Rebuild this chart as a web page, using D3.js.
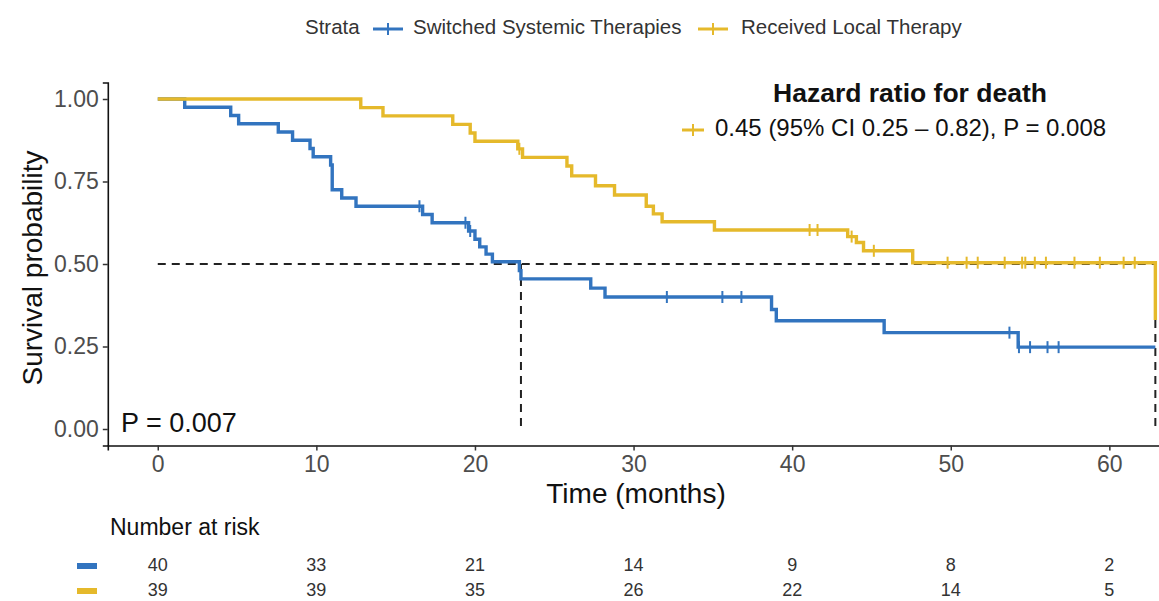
<!DOCTYPE html>
<html>
<head>
<meta charset="utf-8">
<script src="https://cdn.jsdelivr.net/npm/d3@7"></script>
<style>
  html, body { margin: 0; padding: 0; background: #fff; }
  svg { display: block; font-family: "Liberation Sans", Arial, sans-serif; }
</style>
</head>
<body>
<svg id="chart" width="1159" height="601"></svg>
<script>
// ---------------- data ----------------
const strataNames = ["Switched Systemic Therapies", "Received Local Therapy"];
const strataColors = ["#3274BF", "#E5B92B"];

const blueTimes = [0, 1.7, 4.6, 5.1, 7.6, 8.5, 9.6, 9.8, 10.9, 11.0, 11.6, 12.5, 16.7, 17.3, 19.6, 20.0, 20.3, 20.7, 21.1, 22.8, 22.9, 27.3, 28.2, 38.7, 39.0, 45.8, 54.25, 62.9];
const blueSurv  = [1, 0.975, 0.95, 0.925, 0.90, 0.875, 0.85, 0.825, 0.80, 0.725, 0.70, 0.675, 0.65, 0.625, 0.60, 0.575, 0.552, 0.530, 0.507, 0.480, 0.455, 0.427, 0.40, 0.362, 0.328, 0.292, 0.248, 0.248];
const blueCensor = [16.5, 19.4, 19.7, 32.1, 35.6, 36.8, 53.7, 54.3, 55.0, 56.1, 56.8];

const yellowTimes = [0, 12.8, 14.2, 18.6, 19.7, 20.0, 22.7, 23.0, 25.8, 26.1, 27.6, 28.8, 30.8, 31.25, 31.8, 35.1, 43.5, 44.05, 44.5, 47.6, 62.9];
const yellowSurv  = [1, 0.974, 0.949, 0.923, 0.897, 0.872, 0.849, 0.823, 0.797, 0.767, 0.737, 0.709, 0.675, 0.652, 0.628, 0.603, 0.583, 0.565, 0.540, 0.504, 0.33];
const yellowCensor = [22.8, 41.1, 41.6, 43.75, 45.15, 49.8, 51.0, 51.7, 53.4, 54.5, 54.7, 55.3, 56.0, 57.8, 59.4, 60.9, 61.6];

const medianTimes = [22.9, 62.9];
const xTicks = [0, 10, 20, 30, 40, 50, 60];
const yTicks = [0, 0.25, 0.5, 0.75, 1];
const riskBlue = [40, 33, 21, 14, 9, 8, 2];
const riskYellow = [39, 39, 35, 26, 22, 14, 5];

const hrTitle = "Hazard ratio for death";
const hrText = "0.45 (95% CI 0.25 \u2013 0.82), P = 0.008";
const pText = "P = 0.007";

// ---------------- scales ----------------
const svg = d3.select("#chart");
const x = d3.scaleLinear().domain([-3.15, 66.15]).range([107.8, 1206.9]);
const y = d3.scaleLinear().domain([-0.05, 1.05]).range([445.5, 82.5]);
const tickFont = "#4D4D4D";

// ---------------- legend ----------------
const leg = svg.append("g").attr("font-size", 20.5).attr("fill", "#333");
leg.append("text").attr("x", 305).attr("y", 29).attr("dominant-baseline", "middle").text("Strata");
function legendKey(g, cx, cy, color, w) {
  g.append("line").attr("x1", cx - w / 2).attr("x2", cx + w / 2).attr("y1", cy).attr("y2", cy)
    .attr("stroke", color).attr("stroke-width", 3);
  g.append("line").attr("x1", cx).attr("x2", cx).attr("y1", cy - 6).attr("y2", cy + 6)
    .attr("stroke", color).attr("stroke-width", 2);
}
legendKey(leg, 388, 29, strataColors[0], 30);
leg.append("text").attr("x", 413).attr("y", 29).attr("dominant-baseline", "middle").text(strataNames[0]);
legendKey(leg, 713, 29, strataColors[1], 30);
leg.append("text").attr("x", 741).attr("y", 29).attr("dominant-baseline", "middle").text(strataNames[1]);

// ---------------- axes ----------------
const xAxis = svg.append("g").attr("transform", "translate(0,445.5)")
  .call(d3.axisBottom(x).tickValues(xTicks).tickSizeOuter(0).tickSize(5).tickPadding(5).tickFormat(d3.format("d")));
xAxis.select(".domain").attr("stroke", "#111").attr("stroke-width", 1.6);
xAxis.selectAll(".tick line").attr("stroke", "#333").attr("stroke-width", 1.5);
xAxis.selectAll(".tick text").attr("font-size", 23).attr("fill", tickFont).attr("font-family", "Liberation Sans, Arial, sans-serif");

const yAxis = svg.append("g").attr("transform", "translate(107.8,0)")
  .call(d3.axisLeft(y).tickValues(yTicks).tickSizeOuter(0).tickSize(5).tickPadding(4).tickFormat(d3.format(".2f")));
yAxis.select(".domain").attr("stroke", "#111").attr("stroke-width", 1.6);
yAxis.selectAll(".tick line").attr("stroke", "#333").attr("stroke-width", 1.5);
yAxis.selectAll(".tick text").attr("font-size", 23).attr("fill", tickFont).attr("font-family", "Liberation Sans, Arial, sans-serif");

svg.append("text").attr("x", 636).attr("y", 496).attr("text-anchor", "middle").attr("dominant-baseline", "middle")
  .attr("font-size", 28).attr("fill", "#111").text("Time (months)");
svg.append("text").attr("transform", "translate(35,268) rotate(-90)").attr("text-anchor", "middle")
  .attr("dominant-baseline", "middle").attr("font-size", 28).attr("fill", "#111").text("Survival probability");

// ---------------- median lines ----------------
const dash = "8,6";
svg.append("line").attr("x1", x(0)).attr("x2", x(d3.max(medianTimes))).attr("y1", y(0.5)).attr("y2", y(0.5))
  .attr("stroke", "#222").attr("stroke-width", 2).attr("stroke-dasharray", dash);
medianTimes.forEach(t => {
  svg.append("line").attr("x1", x(t)).attr("x2", x(t)).attr("y1", y(0.5)).attr("y2", y(0))
    .attr("stroke", "#222").attr("stroke-width", 2).attr("stroke-dasharray", dash);
});

// ---------------- curves ----------------
const line = d3.line().x(d => x(d[0])).y(d => y(d[1])).curve(d3.curveStepAfter);
function stepAt(times, surv, t) {
  let s = surv[0];
  for (let i = 0; i < times.length; i++) if (times[i] <= t) s = surv[i];
  return s;
}
const groups = [
  { times: blueTimes, surv: blueSurv, censor: blueCensor, color: strataColors[0] },
  { times: yellowTimes, surv: yellowSurv, censor: yellowCensor, color: strataColors[1] }
];
groups.forEach(g => {
  const pts = g.times.map((t, i) => [t, g.surv[i]]);
  svg.append("path").attr("d", line(pts)).attr("fill", "none").attr("stroke", g.color)
    .attr("stroke-width", 3.4).attr("stroke-linejoin", "miter");
  svg.append("g").selectAll("line").data(g.censor).join("line")
    .attr("x1", d => x(d)).attr("x2", d => x(d))
    .attr("y1", d => y(stepAt(g.times, g.surv, d)) - 6)
    .attr("y2", d => y(stepAt(g.times, g.surv, d)) + 6)
    .attr("stroke", g.color).attr("stroke-width", 2);
});

// ---------------- annotations ----------------
svg.append("text").attr("x", 910).attr("y", 95).attr("text-anchor", "middle").attr("dominant-baseline", "middle")
  .attr("font-size", 26.5).attr("font-weight", "bold").attr("fill", "#111").text(hrTitle);
legendKey(svg.append("g"), 693, 130, strataColors[1], 22);
svg.append("text").attr("x", 715).attr("y", 130).attr("dominant-baseline", "middle")
  .attr("font-size", 24).attr("fill", "#111").text(hrText);
svg.append("text").attr("x", 121).attr("y", 425).attr("dominant-baseline", "middle")
  .attr("font-size", 27).attr("fill", "#111").text(pText);

// ---------------- risk table ----------------
svg.append("text").attr("x", 110).attr("y", 529).attr("dominant-baseline", "middle")
  .attr("font-size", 23).attr("fill", "#111").text("Number at risk");
const rows = [{ vals: riskBlue, color: strataColors[0], y: 566 }, { vals: riskYellow, color: strataColors[1], y: 591 }];
rows.forEach(r => {
  svg.append("rect").attr("x", 77).attr("y", r.y - 3).attr("width", 20).attr("height", 6).attr("fill", r.color);
  svg.append("g").selectAll("text").data(r.vals).join("text")
    .attr("x", (d, i) => x(xTicks[i])).attr("y", r.y).attr("text-anchor", "middle").attr("dominant-baseline", "middle")
    .attr("font-size", 18).attr("fill", "#333").text(d => d);
});
</script>
</body>
</html>
